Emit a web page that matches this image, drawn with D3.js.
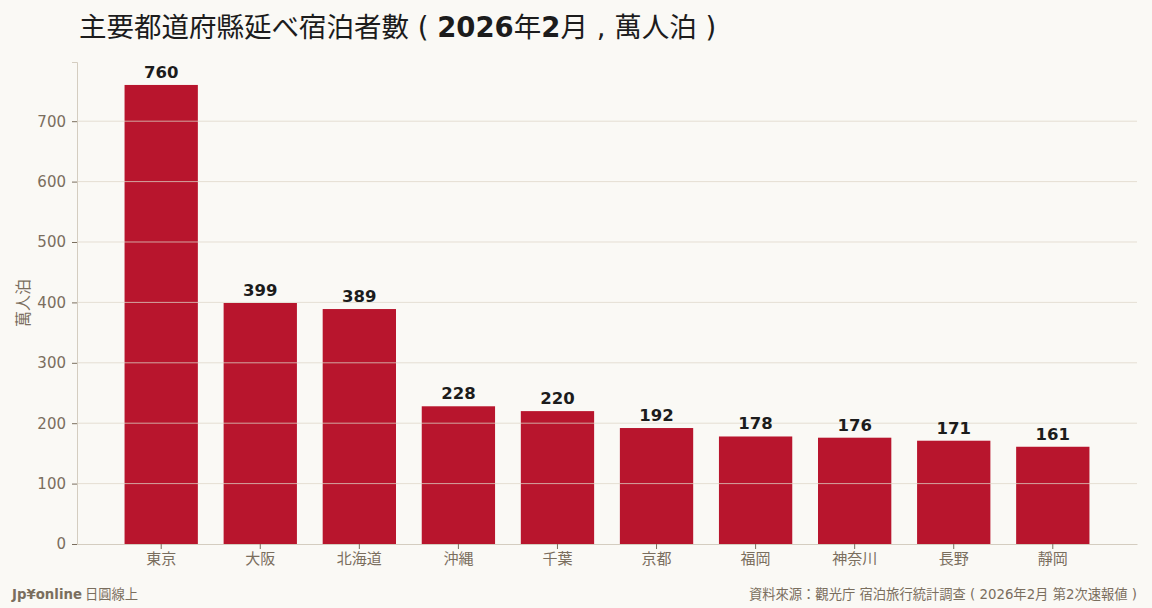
<!DOCTYPE html>
<html>
<head>
<meta charset="utf-8">
<script src="https://cdn.jsdelivr.net/npm/d3@7"></script>
<style>
  html, body { margin: 0; padding: 0; background: #faf9f5; }
  svg { display: block; }
  text { font-family: "DejaVu Sans", "Noto Sans CJK JP", sans-serif; }
</style>
</head>
<body>
<div id="chart"></div>
<script>
// Data
const prefectures = ["東京", "大阪", "北海道", "沖縄", "千葉", "京都", "福岡", "神奈川", "長野", "靜岡"];
const stays = [760, 399, 389, 228, 220, 192, 178, 176, 171, 161];
const yTicks = [0, 100, 200, 300, 400, 500, 600, 700];

const W = 1152, H = 608;
const margin = { top: 62, right: 15, bottom: 64, left: 77 };
const width = W - margin.left - margin.right;
const height = H - margin.top - margin.bottom;

const data = prefectures.map((p, i) => ({ name: p, value: stays[i] }));

const svg = d3.select("#chart").append("svg")
  .attr("width", W)
  .attr("height", H);

svg.append("rect").attr("width", W).attr("height", H).attr("fill", "#faf9f5");

const g = svg.append("g")
  .attr("transform", "translate(" + margin.left + "," + margin.top + ")");

// Scales
const x = d3.scaleBand()
  .domain(prefectures)
  .range([0, width])
  .paddingInner(0.26)
  .paddingOuter(0.48);

const y = d3.scaleLinear()
  .domain([0, d3.max(stays) * 1.05])
  .range([height, 0]);

// Bars
g.selectAll(".bar")
  .data(data)
  .enter().append("rect")
  .attr("class", "bar")
  .attr("x", d => x(d.name))
  .attr("y", d => y(d.value))
  .attr("width", x.bandwidth())
  .attr("height", d => height - y(d.value))
  .attr("fill", "#b8152d");

// Gridlines drawn over the bars
g.selectAll("line.grid")
  .data(yTicks.filter(t => t > 0))
  .enter().append("line")
  .attr("class", "grid")
  .attr("x1", 0)
  .attr("x2", width)
  .attr("y1", d => y(d))
  .attr("y2", d => y(d))
  .style("stroke", "#ddd6c8")
  .style("stroke-opacity", 0.75)
  .style("stroke-width", 1);

// Value labels
g.selectAll(".val")
  .data(data)
  .enter().append("text")
  .attr("class", "val")
  .attr("x", d => x(d.name) + x.bandwidth() / 2)
  .attr("y", d => y(d.value) - 7)
  .attr("text-anchor", "middle")
  .style("font-size", "16.5px")
  .style("font-weight", "bold")
  .style("fill", "#1c1c1c")
  .text(d => d.value);

// Axes
const axisColor = "#d4cdc0";
const labelColor = "#7a6e5e";

const yAxis = g.append("g")
  .call(d3.axisLeft(y).tickValues(yTicks).tickSize(5).tickPadding(6));
yAxis.select(".domain").style("stroke", axisColor);
yAxis.selectAll(".tick line").style("stroke", labelColor);
yAxis.selectAll(".tick text")
  .style("font-size", "15px")
  .style("fill", labelColor);

const xAxis = g.append("g")
  .attr("transform", "translate(0," + height + ")")
  .call(d3.axisBottom(x).tickSize(5).tickPadding(4).tickSizeOuter(0));
xAxis.select(".domain").style("stroke", axisColor);
xAxis.selectAll(".tick line").style("stroke", labelColor);
xAxis.selectAll(".tick text")
  .style("font-family", "'Noto Sans CJK JP', sans-serif")
  .style("font-size", "15px")
  .style("fill", labelColor);

// Y axis title
svg.append("text")
  .attr("transform", "translate(29," + (margin.top + height / 2) + ") rotate(-90)")
  .attr("text-anchor", "middle")
  .style("font-family", "'Noto Sans CJK JP', sans-serif")
  .style("font-size", "16px")
  .style("fill", labelColor)
  .text("萬人泊");

// Title: CJK in Noto, digits bold, punctuation in DejaVu
const cjk = "'Noto Sans CJK JP', sans-serif";
const titleParts = [
  { t: "主要都道府縣延べ宿泊者數", f: cjk },
  { t: " ( ", f: null },
  { t: "2026", f: null, b: true },
  { t: "年", f: cjk },
  { t: "2", f: null, b: true },
  { t: "月", f: cjk },
  { t: " , ", f: null },
  { t: "萬人泊", f: cjk },
  { t: " )", f: null }
];
const title = svg.append("text")
  .attr("x", 79)
  .attr("y", 37)
  .style("white-space", "pre")
  .style("font-size", "27.5px")
  .style("fill", "#1c1c1c");
titleParts.forEach(p => {
  const s = title.append("tspan").text(p.t);
  if (p.f) s.style("font-family", p.f);
  if (p.b) s.style("font-weight", "bold");
});

// Footer
const brand = svg.append("text")
  .attr("x", 12)
  .attr("y", 599)
  .style("font-size", "13.3px")
  .style("fill", "#7a6e5e");
brand.append("tspan").style("font-weight", "bold").text("Jp¥online");
brand.append("tspan").style("font-family", cjk).text(" 日圓線上");

svg.append("text")
  .attr("x", 1137)
  .attr("y", 599)
  .attr("text-anchor", "end")
  .style("white-space", "pre")
  .style("font-size", "13.3px")
  .style("fill", "#7a6e5e")
  .text("資料來源：觀光庁 宿泊旅行統計調查 ( 2026年2月 第2次速報値 )");
</script>
</body>
</html>
